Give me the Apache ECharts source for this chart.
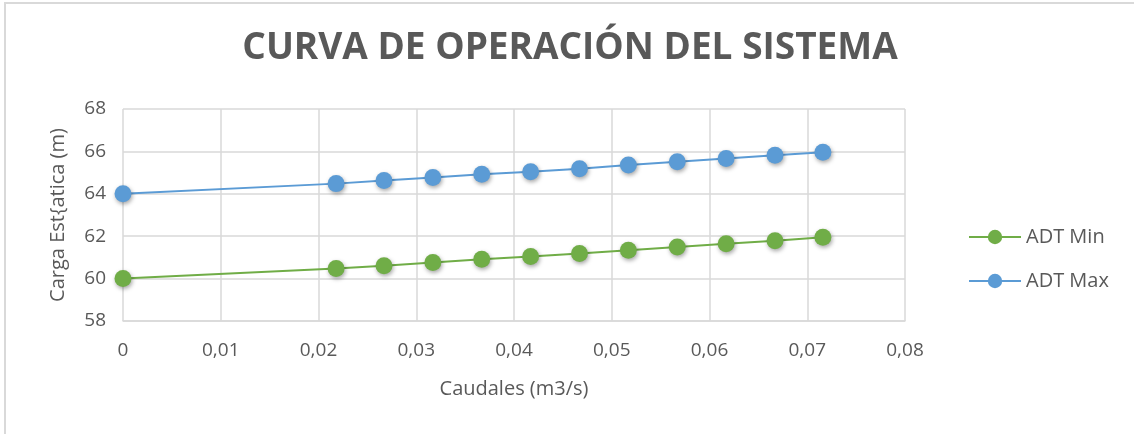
<!DOCTYPE html>
<html lang="es">
<head>
    <meta charset="UTF-8">
    <title>Curva de operación del sistema</title>
    <script src="https://cdn.jsdelivr.net/npm/echarts@6/dist/echarts.min.js"></script>
    <style>
        html, body { margin: 0; padding: 0; background: #fff; }
    </style>
</head>
<body>
<div id="main" style="width:1134px;height:434px;"></div>

<script type="text/javascript">
    // caudales (m3/s)
    var caudales = [0, 0.0218, 0.0267, 0.0317, 0.0367, 0.0417, 0.0467, 0.0517, 0.0567, 0.0617, 0.0667, 0.0716];
    // carga (m)
    var adtMin = [60, 60.48, 60.61, 60.76, 60.91, 61.04, 61.18, 61.34, 61.49, 61.64, 61.79, 61.95];
    var adtMax = [64, 64.48, 64.63, 64.77, 64.92, 65.04, 65.18, 65.36, 65.51, 65.66, 65.82, 65.96];
    var nombres = ['ADT Min', 'ADT Max'];

    function pares(xs, ys) {
        var out = [];
        for (var i = 0; i < xs.length; i++) {
            out.push([xs[i], ys[i]]);
        }
        return out;
    }

    var fuente = '"Open Sans", sans-serif';
    var gris = '#595959';
    var myChart = echarts.init(document.getElementById('main'));

    var option = {
        backgroundColor: '#ffffff',
        animation: false,
        textStyle: { fontFamily: fuente },
        graphic: [{
            type: 'rect',
            shape: { x: 5, y: 3, width: 1200, height: 500 },
            style: { fill: 'none', stroke: '#d9d9d9', lineWidth: 2 },
            silent: true
        }],
        title: {
            text: 'CURVA DE OPERACIÓN DEL SISTEMA',
            left: 565,
            top: 25,
            textAlign: 'center',
            textStyle: {
                fontFamily: fuente,
                fontSize: 37,
                fontWeight: 'bold',
                color: gris
            }
        },
        legend: {
            orient: 'vertical',
            left: 963,
            top: 222,
            itemGap: 24,
            itemWidth: 52,
            itemHeight: 18,
            data: nombres,
            textStyle: { fontSize: 20, color: gris, fontFamily: fuente }
        },
        grid: {
            left: 123,
            right: 229,
            top: 109,
            bottom: 113,
            containLabel: false
        },
        xAxis: {
            type: 'value',
            min: 0,
            max: 0.08,
            interval: 0.01,
            name: 'Caudales (m3/s)',
            nameLocation: 'middle',
            nameGap: 58,
            nameTextStyle: { fontSize: 20, color: gris },
            axisLine: { show: true, lineStyle: { color: '#d9d9d9', width: 1.5 } },
            axisTick: { show: false },
            axisLabel: {
                fontSize: 19,
                color: gris,
                margin: 20,
                formatter: function (v) {
                    return v === 0 ? '0' : v.toFixed(2).replace('.', ',');
                }
            },
            splitLine: { show: true, lineStyle: { color: '#d9d9d9', width: 1.5 } }
        },
        yAxis: {
            type: 'value',
            min: 58,
            max: 68,
            interval: 2,
            name: 'Carga Est{atica (m)',
            nameLocation: 'middle',
            nameGap: 55,
            nameTextStyle: { fontSize: 20, color: gris },
            axisLine: { show: false },
            axisTick: { show: false },
            axisLabel: { fontSize: 19, color: gris, margin: 17 },
            splitLine: { show: true, lineStyle: { color: '#d9d9d9', width: 1.5 } }
        },
        series: [{
            name: nombres[0],
            type: 'line',
            data: pares(caudales, adtMin),
            symbol: 'circle',
            symbolSize: 17,
            color: '#70ad47',
            lineStyle: { width: 2, color: '#70ad47' },
            itemStyle: {
                color: '#70ad47',
                shadowColor: 'rgba(0,0,0,0.35)',
                shadowBlur: 4,
                shadowOffsetX: 1,
                shadowOffsetY: 2
            }
        }, {
            name: nombres[1],
            type: 'line',
            data: pares(caudales, adtMax),
            symbol: 'circle',
            symbolSize: 17,
            color: '#5b9bd5',
            lineStyle: { width: 2, color: '#5b9bd5' },
            itemStyle: {
                color: '#5b9bd5',
                shadowColor: 'rgba(0,0,0,0.35)',
                shadowBlur: 4,
                shadowOffsetX: 1,
                shadowOffsetY: 2
            }
        }]
    };
    myChart.setOption(option);
</script>

</body>
</html>
